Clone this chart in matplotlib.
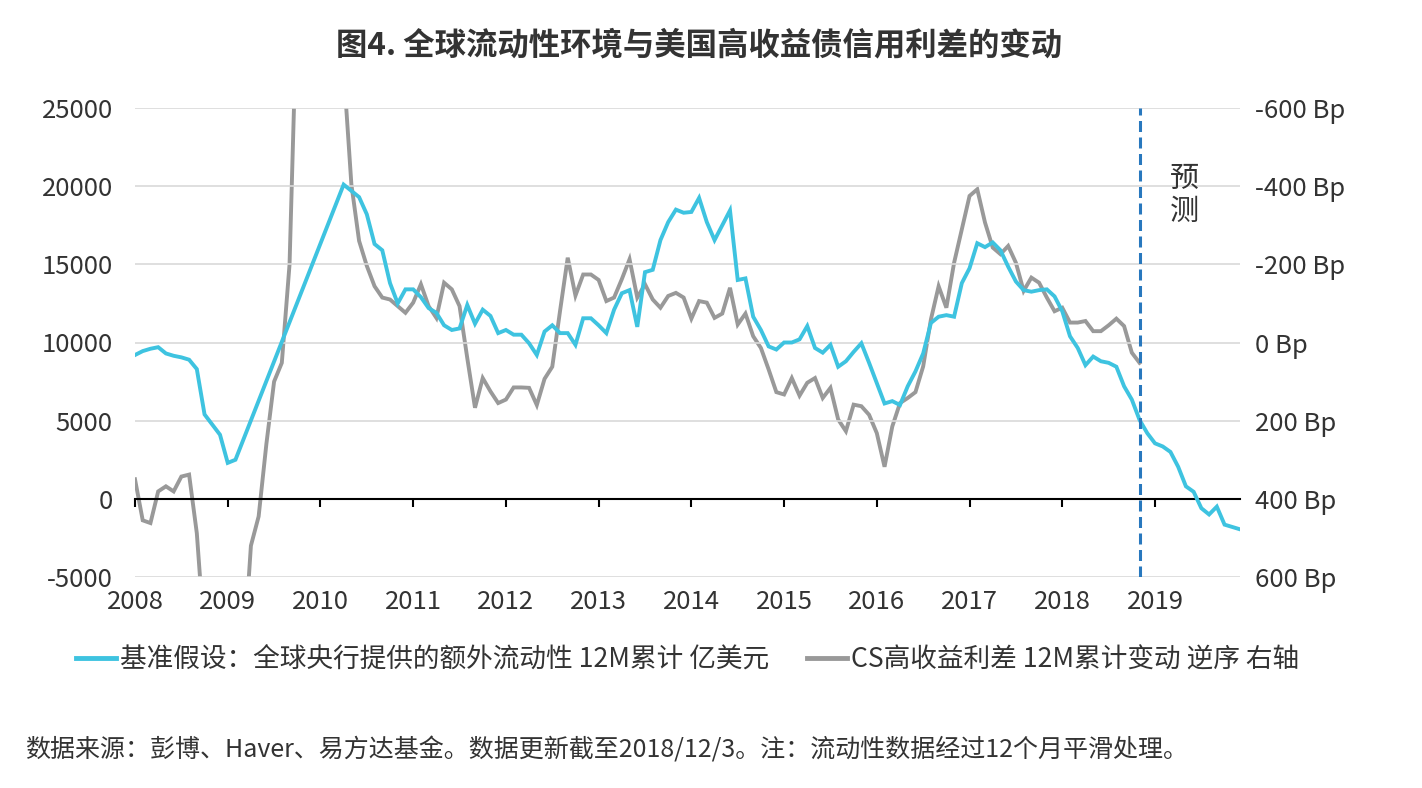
import numpy as np
import matplotlib
matplotlib.use("Agg")
import matplotlib.pyplot as plt
from matplotlib.lines import Line2D

plt.rcParams['font.family'] = ['Noto Sans CJK SC', 'DejaVu Sans']

# ---------------- data ----------------
# Blue: liquidity, 12M cumulative (100m USD), month index from Jan 2008
blue_months = [0, 1, 2, 3, 4, 5, 6, 7, 8, 9, 10, 11, 12, 13] + list(range(27, 144))
blue_vals = [9200, 9450, 9600, 9700, 9300, 9150, 9050, 8900, 8300, 5400, 4750, 4100, 2300, 2500,
             20100, 19700, 19300, 18200, 16300, 15900, 13800, 12500, 13400, 13400,
             12900, 12200, 11900, 11100, 10800, 10900, 12400, 11200, 12100, 11700,
             10600, 10800, 10500, 10500, 9950, 9200, 10700, 11100, 10600, 10600,
             9850, 11550, 11550, 11100, 10600, 12100, 13150, 13350, 11000, 14500,
             14650, 16550, 17700, 18500, 18300, 18350, 19250, 17700, 16550, 17500,
             18450, 14000, 14100, 11650, 10800, 9750, 9550, 10000, 10000, 10200,
             11050, 9650, 9350, 9850, 8450, 8800, 9400, 9950, 8700, 7400,
             6100, 6250, 6000, 7200, 8150, 9300, 11250, 11650, 11750, 11650,
             13800, 14750, 16350, 16100, 16400, 15900, 14850, 13900, 13350, 13250,
             13350, 13400, 12950, 12000, 10400, 9650, 8550, 9100, 8800, 8700,
             8450, 7200, 6350, 5050, 4200, 3550, 3350, 3000, 2050, 800,
             450, -600, -1000, -500, -1650, -1800, -1950]

# Gray: CS high-yield spread 12M change (bp, right axis, inverted), monthly from Jan 2008
gray_vals = [350, 455, 462, 381, 368, 381, 343, 338, 488, 760,
             1000, 1200, 1300, 1100, 820, 520, 445, 260, 100, 52,
             -200, -900, -1100, -1200, -1250, -1200, -1000, -700, -405, -260,
             -196, -144, -115, -110, -93, -76, -102, -149, -93, -63,
             -153, -136, -93, 40, 167, 91, 125, 155, 146, 115,
             115, 116, 160, 93, 62, -80, -217, -120, -174, -174,
             -160, -106, -115, -162, -213, -115, -149, -110, -89, -119,
             -127, -115, -61, -106, -102, -63, -74, -140, -46, -74,
             -16, 14, 69, 127, 133, 91, 136, 103, 91, 142,
             116, 197, 227, 159, 163, 185, 232, 318, 215, 155,
             142, 127, 61, -59, -144, -89, -204, -290, -375, -392,
             -307, -243, -226, -247, -204, -132, -166, -153, -115, -80,
             -89, -51, -51, -55, -29, -29, -44, -61, -42, 26, 52]

years = list(range(2008, 2020))
left_ticks = [-5000, 0, 5000, 10000, 15000, 20000, 25000]
right_ticks = [-600, -400, -200, 0, 200, 400, 600]
forecast_x = 2018.84

title = "图4. 全球流动性环境与美国高收益债信用利差的变动"
blue_label = "基准假设：全球央行提供的额外流动性 12M累计 亿美元"
gray_label = "CS高收益利差 12M累计变动 逆序 右轴"
forecast_label = "预\n测"
source = "数据来源：彭博、Haver、易方达基金。数据更新截至2018/12/3。注：流动性数据经过12个月平滑处理。"

# ---------------- plot ----------------
blue_c = "#3EC3E0"
gray_c = "#999999"
txt_c = "#333333"

fig = plt.figure(figsize=(14.22, 7.88), dpi=100)
ax = fig.add_axes([135/1422, 1-577/788, (1240-135)/1422, (577-108)/788])
ax2 = ax.twinx()

bx = 2008 + np.array(blue_months) / 12.0
gx = 2008 + np.arange(len(gray_vals)) / 12.0

ax2.plot(gx, gray_vals, color=gray_c, lw=2.8, solid_joinstyle='miter', zorder=2)
ax.plot(bx, blue_vals, color=blue_c, lw=2.8, solid_joinstyle='miter', zorder=3)

ax.set_zorder(ax2.get_zorder() + 1)
ax.patch.set_visible(False)

ax.set_xlim(2008, 2008 + 143/12)
ax.set_ylim(-5000, 25000)
ax2.set_ylim(600, -600)

for t in left_ticks:
    if t != 0:
        ax.axhline(t, color="#d9d9d9", lw=1.2, zorder=0)

ax.axvline(forecast_x, color="#2878BE", lw=2.2, linestyle=(0, (3.6, 1.8)), zorder=4)
ax.text(2019.16, 19400, forecast_label, fontsize=21, color=txt_c, ha='left', va='center',
        linespacing=1.1)

for a in (ax, ax2):
    for s in ('top', 'left', 'right'):
        a.spines[s].set_visible(False)
ax2.spines['bottom'].set_visible(False)
ax.spines['bottom'].set_position(('data', 0))
ax.spines['bottom'].set_color('black')
ax.spines['bottom'].set_linewidth(1.5)

ax.set_xticks(years)
ax.set_xticklabels([str(y) for y in years])
ax.tick_params(axis='x', direction='out', length=6, width=1.5, pad=59,
               labelsize=18.5, labelcolor=txt_c)
ax.set_yticks(left_ticks)
ax.set_yticklabels([str(t) for t in left_ticks])
ax.tick_params(axis='y', length=0, pad=16, labelsize=18.5, labelcolor=txt_c)
ax2.set_yticks(right_ticks)
ax2.set_yticklabels([f"{t} Bp" for t in right_ticks])
ax2.tick_params(axis='y', length=0, pad=11, labelsize=18.5, labelcolor=txt_c)

fig.text(0.4915, 1-45/788, title, fontsize=22.6, fontweight='bold', color=txt_c,
         ha='center', va='center')

handles = [Line2D([], [], color=blue_c, lw=3.5), Line2D([], [], color=gray_c, lw=3.5)]
fig.legend(handles, [blue_label, gray_label], loc='center', ncol=2,
           bbox_to_anchor=(0.4835, 1-660/788), frameon=False, fontsize=19.2,
           handlelength=1.5, handletextpad=0.15, columnspacing=1.4, labelcolor=txt_c)

fig.text(25/1422, 1-750/788, source, fontsize=18, color=txt_c, ha='left', va='center')

fig.savefig("out.png", dpi=100)
